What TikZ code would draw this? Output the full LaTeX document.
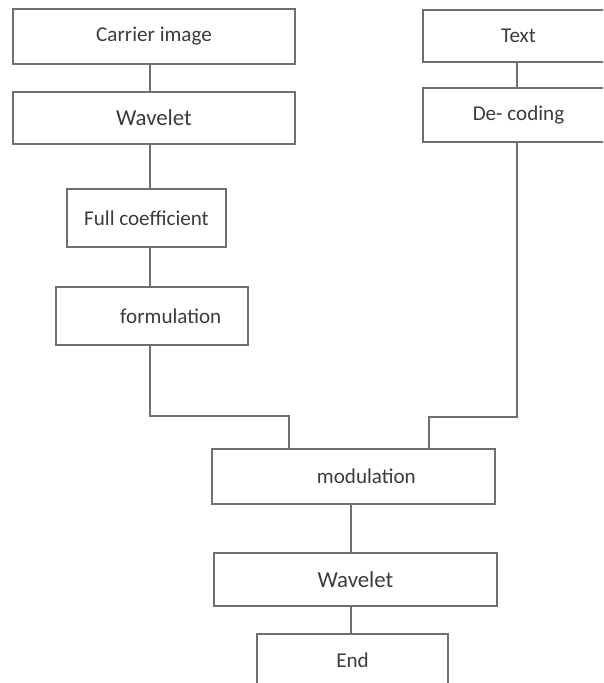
\documentclass[tikz,border=0pt]{standalone}
\usepackage{fontspec}
\setmainfont{Carlito}
\usepackage{tikz}
\usetikzlibrary{calc}
\definecolor{FrameGrey}{RGB}{112,112,112}
\definecolor{LabelGrey}{RGB}{60,60,60}

\begin{document}
\begin{tikzpicture}[x=0.03cm,y=-0.03cm,
  box/.style 2 args={draw=FrameGrey,line width=1.3pt,fill=white,inner sep=0pt,outer sep=0pt,
    minimum width=#1*0.03cm,minimum height=#2*0.03cm,text=LabelGrey,
    font=\fontsize{18}{21}\selectfont},
  link/.style={draw=FrameGrey,line width=1.3pt}]
  \path[use as bounding box,clip] (0,0) rectangle (603,683);
  % left column
  \node[box={282}{55}] (carrier) at (154,36.5) {Carrier image};
  \node[box={282}{52},font=\fontsize{19.5}{22}\selectfont] (wav1) at (154,118) {Wavelet};
  \node[box={159}{58}] (fullc) at (146.5,218) {Full coefficient};
  \node[box={192}{58}] (formul) at (152,316) {\hspace*{32pt}formulation};
  % right column
  \node[box={191}{52}] (txt) at (518.5,36) {Text};
  \node[box={191}{54}] (decod) at (518.5,115) {De- coding};
  % bottom
  \node[box={283}{55}] (modul) at (353.5,476.5) {\hspace*{22pt}modulation};
  \node[box={283}{53},font=\fontsize{19.5}{22}\selectfont] (wav2) at (355.5,579.5) {Wavelet};
  \node[box={191}{52}] (endn) at (352.5,660) {End};
  \coordinate (lspine) at (150,0);
  \coordinate (rspine) at (517,0);
  \coordinate (cspine) at (351,0);
  \coordinate (mL) at (289,416);
  \coordinate (mR) at (429,417);
  \draw[link] (carrier.south -| lspine) -- (wav1.north -| lspine);
  \draw[link] (wav1.south -| lspine) -- (fullc.north -| lspine);
  \draw[link] (fullc.south -| lspine) -- (formul.north -| lspine);
  \draw[link] (formul.south -| lspine) |- (mL) -- (mL |- modul.north);
  \draw[link] (txt.south -| rspine) -- (decod.north -| rspine);
  \draw[link] (decod.south -| rspine) |- (mR) -- (mR |- modul.north);
  \draw[link] (modul.south -| cspine) -- (wav2.north -| cspine);
  \draw[link] (wav2.south -| cspine) -- (endn.north -| cspine);
\end{tikzpicture}
\end{document}
